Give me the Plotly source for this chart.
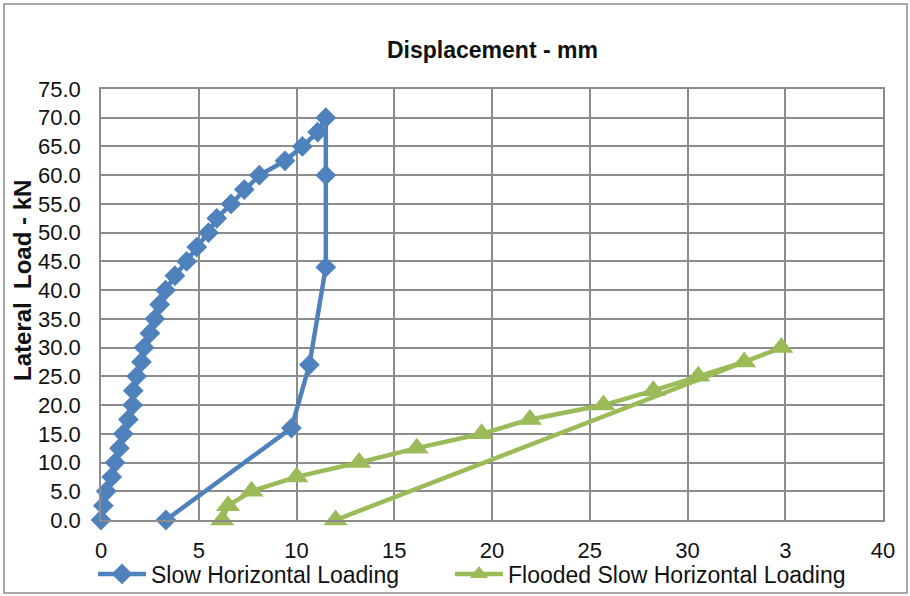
import plotly.graph_objects as go

# Slow Horizontal Loading (displacement mm, load kN)
slow_disp = [0.0, 0.12, 0.27, 0.55, 0.72, 0.94, 1.14, 1.4, 1.62, 1.65, 1.82, 2.07, 2.2, 2.5,
             2.76, 3.0, 3.3, 3.78, 4.38, 4.9, 5.5, 5.92, 6.65, 7.33, 8.1, 9.41, 10.3, 11.08,
             11.5, 11.5, 11.5, 10.66, 9.74, 3.32]
slow_load = [0.0, 2.5, 5.0, 7.5, 10.0, 12.5, 15.0, 17.5, 20.0, 22.5, 25.0, 27.5, 30.0, 32.5,
             35.0, 37.5, 40.0, 42.5, 45.0, 47.5, 50.0, 52.5, 55.0, 57.5, 60.0, 62.5, 65.0, 67.5,
             70.0, 60.0, 44.0, 27.0, 16.0, 0.0]

# Flooded Slow Horizontal Loading
flood_disp = [6.2, 6.5, 7.7, 10.0, 13.2, 16.15, 19.47, 21.94, 25.7, 28.25, 30.55, 32.9, 34.8, 12.0]
flood_load = [0.0, 2.5, 5.0, 7.5, 10.0, 12.5, 15.0, 17.5, 20.0, 22.5, 25.0, 27.5, 30.0, 0.0]

x_tickvals = [0, 5, 10, 15, 20, 25, 30, 35, 40]
x_ticktext = ["0", "5", "10", "15", "20", "25", "30", "3", "40"]
y_tickvals = [0, 5, 10, 15, 20, 25, 30, 35, 40, 45, 50, 55, 60, 65, 70, 75]

FONT = "Liberation Sans, Arial, sans-serif"
BLUE = "#4F81BD"
GREEN = "#9BBB59"
GRID = "#8C8C8C"

fig = go.Figure()
fig.add_trace(go.Scatter(
    x=slow_disp, y=slow_load, mode="lines+markers", name="Slow Horizontal Loading",
    line=dict(color=BLUE, width=4.5),
    marker=dict(symbol="diamond", size=16, color=BLUE),
    cliponaxis=False, legend="legend",
))
fig.add_trace(go.Scatter(
    x=flood_disp, y=flood_load, mode="lines+markers", name="Flooded Slow Horizontal Loading",
    line=dict(color=GREEN, width=4.5),
    marker=dict(symbol="triangle-up", size=21, color=GREEN),
    cliponaxis=False, legend="legend2",
))

L, R, T, B = 101, 27, 89, 76
W, H = 910, 596
pw, ph = W - L - R, H - T - B

def px(x):
    return (x - L) / pw

def py(y):
    return (H - B - y) / ph

legend_common = dict(orientation="h", xanchor="left", yanchor="middle",
                     font=dict(size=23), itemwidth=48, bgcolor="rgba(0,0,0,0)")

fig.update_layout(
    width=W, height=H,
    margin=dict(l=L, r=R, t=T, b=B, autoexpand=False),
    paper_bgcolor="white", plot_bgcolor="white",
    font=dict(family=FONT, size=22, color="#111111"),
    showlegend=True,
    legend=dict(x=px(93), y=py(574), **legend_common),
    legend2=dict(x=px(450), y=py(574), **legend_common),
    xaxis=dict(range=[0, 40], tickvals=x_tickvals, ticktext=x_ticktext,
               showgrid=True, gridcolor=GRID, gridwidth=1.5,
               showline=True, linecolor=GRID, linewidth=1.5, mirror=True,
               zeroline=False, ticks="", ticklabelstandoff=10,
               tickfont=dict(size=22)),
    yaxis=dict(range=[0, 75], tickvals=y_tickvals, tickformat=".1f",
               showgrid=True, gridcolor=GRID, gridwidth=1.5,
               showline=True, linecolor=GRID, linewidth=1.5, mirror=True,
               zeroline=False, ticks="", ticklabelstandoff=14,
               tickfont=dict(size=22)),
    annotations=[
        dict(text="<b>Displacement - mm</b>", xref="paper", yref="paper",
             x=0.5, y=py(50), xanchor="center", yanchor="middle", showarrow=False,
             font=dict(size=23, family=FONT)),
        dict(text="<b>Lateral\u00a0\u00a0Load - kN</b>", xref="paper", yref="paper",
             x=px(22), y=py(281), xanchor="center", yanchor="middle", showarrow=False,
             textangle=-90, font=dict(size=24, family=FONT)),
    ],
    shapes=[
        dict(type="rect", xref="paper", yref="paper",
             x0=px(4), x1=px(907), y0=py(593), y1=py(4),
             line=dict(color="#8C8C8C", width=1.5), layer="below"),
    ],
)

fig.write_html("out.html", config={"displayModeBar": False},
               post_script="document.body.style.margin='0px';document.body.style.overflow='hidden';")
